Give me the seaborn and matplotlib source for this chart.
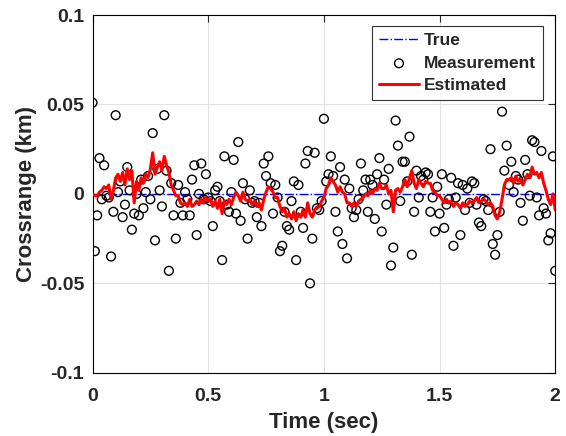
import matplotlib
matplotlib.use("Agg")
import numpy as np
import pandas as pd
import seaborn as sns
from matplotlib import pyplot as plt

# Sample times (dt = 0.01 s)
time_sec = [round(i * 0.01, 2) for i in range(201)]

# Noisy crossrange measurements (km)
measurement = [
    0.051, -0.032, -0.012, 0.020, -0.003, 0.016, -0.001, -0.002, -0.035, -0.010,
    0.044, 0.001, 0.007, -0.013, -0.006, 0.015, 0.002, -0.020, -0.011, 0.000,
    -0.012, 0.008, -0.008, 0.001, 0.010, -0.003, 0.034, -0.026, 0.014, 0.002,
    -0.007, 0.044, 0.013, -0.043, 0.006, -0.012, -0.025, 0.005, -0.005, -0.012,
    0.001, -0.003, -0.012, 0.008, 0.016, -0.023, 0.000, 0.017, -0.003, 0.011,
    -0.002, -0.004, -0.018, 0.002, 0.004, -0.004, -0.037, 0.021, -0.006, -0.010,
    0.001, 0.019, -0.011, 0.029, -0.015, 0.006, -0.003, -0.025, 0.002, -0.005,
    -0.004, -0.013, -0.005, -0.018, 0.017, 0.010, 0.021, 0.006, -0.011, 0.005,
    -0.002, -0.032, -0.029, -0.010, -0.018, -0.020, -0.004, 0.007, -0.037, 0.005,
    -0.010, -0.019, 0.017, 0.024, -0.050, -0.025, 0.023, -0.008, -0.009, -0.004,
    0.042, 0.007, 0.011, 0.021, 0.010, -0.010, -0.021, 0.015, -0.028, 0.008,
    -0.036, 0.003, -0.008, -0.013, -0.009, -0.003, 0.017, 0.002, 0.008, -0.010,
    0.008, 0.005, -0.014, 0.011, 0.020, -0.021, 0.008, -0.006, 0.014, -0.040,
    -0.030, 0.041, 0.027, -0.004, 0.018, 0.018, 0.007, 0.032, -0.034, -0.010,
    0.013, -0.002, 0.010, 0.008, 0.012, 0.011, -0.010, -0.002, -0.021, 0.004,
    -0.011, 0.011, -0.019, -0.006, -0.003, 0.009, -0.029, -0.002, 0.006, -0.023,
    0.005, -0.009, 0.003, -0.005, 0.007, 0.006, -0.006, -0.016, -0.018, -0.003,
    -0.004, -0.009, 0.025, -0.028, -0.034, -0.023, -0.010, 0.046, 0.013, 0.027,
    0.005, 0.018, 0.001, 0.010, 0.008, -0.005, -0.015, 0.019, 0.011, -0.001,
    0.030, 0.029, -0.002, -0.012, 0.024, -0.008, -0.011, -0.026, -0.022, 0.021,
    -0.043,
]

# Filter estimate (km)
estimated = [
    0.000, -0.001, -0.001, 0.001, 0.002, 0.004, 0.003, 0.005, -0.003, 0.002,
    0.009, 0.011, 0.007, 0.012, 0.005, 0.014, 0.008, 0.013, -0.005, 0.007,
    0.002, 0.009, 0.006, 0.011, 0.009, 0.014, 0.023, 0.011, 0.015, 0.018,
    0.013, 0.021, 0.016, 0.012, 0.005, 0.002, -0.001, -0.001, -0.005, -0.006,
    -0.005, -0.007, -0.003, -0.007, -0.006, -0.004, -0.006, -0.003, -0.005, -0.002,
    -0.004, -0.003, -0.007, -0.004, -0.008, -0.003, -0.011, -0.004, -0.006, -0.003,
    -0.006, -0.002, 0.001, -0.001, -0.004, 0.001, -0.003, -0.004, -0.003, -0.006,
    -0.004, -0.007, -0.005, -0.009, -0.003, 0.001, 0.004, 0.003, 0.001, -0.002,
    -0.002, -0.007, -0.010, -0.008, -0.013, -0.011, -0.014, -0.010, -0.015, -0.011,
    -0.013, -0.009, -0.013, -0.005, -0.011, -0.013, -0.009, -0.008, -0.007, -0.004,
    -0.002, 0.003, 0.005, 0.009, 0.007, 0.005, 0.001, 0.004, 0.001, 0.000,
    -0.005, -0.005, -0.007, -0.005, -0.007, -0.004, -0.003, -0.002, 0.000, -0.001,
    0.002, 0.000, 0.003, 0.002, 0.006, 0.003, 0.003, 0.005, 0.000, 0.002,
    -0.010, 0.002, 0.003, 0.001, 0.004, 0.008, 0.004, 0.009, 0.013, 0.006,
    0.003, 0.008, 0.006, 0.004, 0.007, 0.006, 0.006, 0.002, 0.001, -0.001,
    -0.001, -0.003, -0.005, -0.003, -0.005, -0.004, -0.007, -0.005, -0.006, -0.008,
    -0.005, -0.007, -0.006, -0.004, -0.005, -0.004, -0.002, -0.005, -0.004, -0.003,
    -0.004, -0.006, -0.005, -0.007, -0.012, -0.014, -0.010, -0.003, 0.005, 0.008,
    0.008, 0.009, 0.006, 0.010, 0.007, 0.008, 0.005, 0.008, 0.011, 0.009,
    0.015, 0.011, 0.012, 0.009, 0.012, 0.006, 0.002, -0.003, -0.006, 0.000,
    -0.009,
]

true_value = [0.0] * len(time_sec)

x_ticks = [0, 0.5, 1, 1.5, 2]
x_tick_labels = ["0", "0.5", "1", "1.5", "2"]
y_ticks = [-0.1, -0.05, 0, 0.05, 0.1]
y_tick_labels = ["-0.1", "-0.05", "0", "0.05", "0.1"]

sns.set_style("white")
plt.rcParams["font.family"] = ["Liberation Sans", "DejaVu Sans"]
plt.rcParams["font.weight"] = "bold"

df = pd.DataFrame({
    "time": time_sec,
    "true": true_value,
    "meas": measurement,
    "est": estimated,
})

fig = plt.figure(figsize=(5.66, 4.36), dpi=100)
ax = fig.add_axes([0.1635, 0.145, 0.8175, 0.8205])

# True trajectory (dash-dot blue)
sns.lineplot(data=df, x="time", y="true", ax=ax, color="blue", linewidth=1.0,
             linestyle="-.", label="True", sort=False)
# Measurements as open circles
sns.scatterplot(data=df, x="time", y="meas", ax=ax, marker="o", s=40,
                facecolor="none", edgecolor="black", linewidth=1.0,
                label="Measurement", zorder=3)
# Estimate (red)
sns.lineplot(data=df, x="time", y="est", ax=ax, color="red", linewidth=2.2,
             label="Estimated", sort=False, zorder=4)

ax.set_xlim(0, 2)
ax.set_ylim(-0.1, 0.1)
ax.set_xticks(x_ticks)
ax.set_xticklabels(x_tick_labels)
ax.set_yticks(y_ticks)
ax.set_yticklabels(y_tick_labels)
ax.tick_params(axis="both", labelsize=14, direction="in", length=5, width=0.8,
               top=True, right=True, pad=6)
ax.tick_params(axis="x", pad=11)
for lbl in ax.get_xticklabels() + ax.get_yticklabels():
    lbl.set_fontweight("bold")

ax.grid(True, color="#e3e3e3", linewidth=0.8)
for spine in ax.spines.values():
    spine.set_color("black")
    spine.set_linewidth(0.8)

ax.set_xlabel("Time (sec)", fontsize=16, fontweight="bold", labelpad=5)
ax.set_ylabel("Crossrange (km)", fontsize=16, fontweight="bold", labelpad=2)

leg = ax.legend(loc="upper right", bbox_to_anchor=(0.974, 0.969), borderaxespad=0,
                fontsize=12.5, frameon=True, fancybox=False, handlelength=2.3,
                borderpad=0.4, labelspacing=0.43, handletextpad=0.3)
leg.get_frame().set_edgecolor("black")
leg.get_frame().set_linewidth(0.8)
for txt in leg.get_texts():
    txt.set_fontweight("bold")

fig.savefig("out.png", dpi=100)
